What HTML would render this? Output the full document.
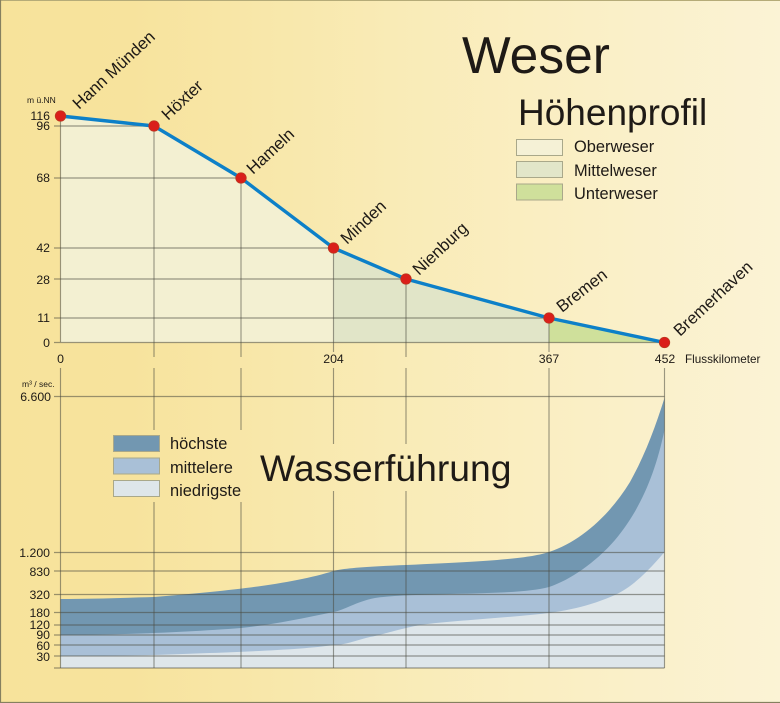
<!DOCTYPE html>
<html><head><meta charset="utf-8"><style>
html,body{margin:0;padding:0;background:#f8e8a8}
svg{display:block;filter:blur(.35px)}
text{font-family:"Liberation Sans",sans-serif;fill:#1e1a16}
.a{font-size:12.3px;fill:#2b2720}
.r{font-size:16.8px}
.l{font-size:16.4px}
.g line{stroke:#4a4a40;stroke-opacity:.55;stroke-width:1.15}
</style></head><body>
<svg width="780" height="703" viewBox="0 0 780 703" xmlns="http://www.w3.org/2000/svg">
<defs><linearGradient id="bg" x1="0" x2="1" y1="0" y2="0">
<stop offset="0" stop-color="#f7e39b"/><stop offset=".17" stop-color="#f7e39d"/><stop offset=".5" stop-color="#f9ebb6"/><stop offset="1" stop-color="#fbf3d5"/></linearGradient></defs>
<rect width="780" height="703" fill="url(#bg)"/>
<path d="M.5 703V.5H780" fill="none" stroke="#b5ab78" stroke-width="1"/>
<path d="M.5 0V702.5H780" fill="none" stroke="#85805f" stroke-width="1.2"/>

<polygon points="60.5,116 154,126 241,178 333.5,248 333.5,342.5 60.5,342.5" fill="#f3f0d2"/>
<polygon points="333.5,248 406,279 549,318 549,342.5 333.5,342.5" fill="#e1e5c8"/>
<polygon points="549,318 664.5,342.5 549,342.5" fill="#cfe09b"/>

<path d="M60.5 668H664.5V398C655 428 645 455 630 482C610 515 580 542 549 552C530 558 500 561 406 565C370 566.500 345 568 333.500 571C295 583 241 590 154 597C120 598 90 599 60.500 599Z" fill="#7297b1"/>
<path d="M60.5 668H664.5V430C655 475 640 510 615 540C595 563 570 580 549 587C530 592 500 593 450 594C420 595 395 595 375 598C355 602 345 610 333.500 612C300 619 270 625 241 628C190 632 120 635 60.500 635Z" fill="#a9c0d7"/>
<path d="M60.5 668H664.5V552C645 575 630 588 615 595C590 606 565 612 530 615C490 619 450 621 420 625C395 630 385 634 370 637C350 642 345 645 333.500 645C300 650 241 652 154 655C120 656 90 656 60.500 656Z" fill="#dee6ea"/>

<g class="g">
<line x1="60.5" y1="116" x2="60.5" y2="342"/>
<line x1="154" y1="126" x2="154" y2="357"/>
<line x1="241" y1="178" x2="241" y2="357"/>
<line x1="333.500" y1="248" x2="333.500" y2="352"/>
<line x1="406" y1="279" x2="406" y2="357"/>
<line x1="549" y1="318" x2="549" y2="352"/>
<line x1="54" y1="126" x2="154" y2="126"/>
<line x1="54" y1="178" x2="241" y2="178"/>
<line x1="54" y1="248" x2="333.500" y2="248"/>
<line x1="54" y1="279" x2="406" y2="279"/>
<line x1="54" y1="318" x2="549" y2="318"/>
<line x1="54" y1="342.5" x2="664" y2="342.5"/>
<line x1="60.5" y1="368" x2="60.5" y2="668"/>
<line x1="154" y1="368" x2="154" y2="430"/><line x1="154" y1="502" x2="154" y2="668"/>
<line x1="241" y1="368" x2="241" y2="430"/><line x1="241" y1="502" x2="241" y2="668"/>
<line x1="333.500" y1="368" x2="333.500" y2="444"/><line x1="333.500" y1="491" x2="333.500" y2="668"/>
<line x1="406" y1="368" x2="406" y2="444"/><line x1="406" y1="491" x2="406" y2="668"/>
<line x1="549" y1="368" x2="549" y2="668"/>
<line x1="664.5" y1="368" x2="664.5" y2="668"/>
<line x1="54" y1="396.500" x2="664.5" y2="396.500"/>
<line x1="54" y1="552.500" x2="664.5" y2="552.500"/>
<line x1="54" y1="571" x2="664.5" y2="571"/>
<line x1="54" y1="594.500" x2="664.5" y2="594.500"/>
<line x1="54" y1="612.500" x2="664.5" y2="612.500"/>
<line x1="54" y1="625" x2="664.5" y2="625"/>
<line x1="54" y1="635" x2="664.5" y2="635"/>
<line x1="54" y1="645" x2="664.5" y2="645"/>
<line x1="54" y1="656" x2="664.5" y2="656"/>
<line x1="54" y1="668" x2="664.5" y2="668"/>
</g>

<polyline points="60.5,116 154,126 241,178 333.5,248 406,279 549,318 664.5,342.5" fill="none" stroke="#0d80c8" stroke-width="3.4" stroke-linejoin="round"/>
<g fill="#da1f1a" stroke="#b83a20" stroke-width=".7">
<circle cx="60.500" cy="116" r="5.300"/><circle cx="154" cy="126" r="5.300"/><circle cx="241" cy="178" r="5.300"/><circle cx="333.500" cy="248" r="5.300"/><circle cx="406" cy="279" r="5.300"/><circle cx="549" cy="318" r="5.300"/><circle cx="664.500" cy="342.500" r="5.300"/>
</g>

<text x="462" y="73" font-size="51.500">Weser</text>
<text x="518" y="125" font-size="37">Höhenprofil</text>
<text x="260" y="481" font-size="37.300">Wasserführung</text>

<g stroke="#a9a88a" stroke-width="1">
<rect x="516.500" y="139.500" width="46" height="16" fill="#f5f1d6"/>
<rect x="516.500" y="161.500" width="46" height="16" fill="#e2e6c9"/>
<rect x="516.500" y="184" width="46" height="16" fill="#cfe09b"/>
<rect x="113.500" y="435.500" width="46" height="16" fill="#7297b1"/>
<rect x="113.500" y="458" width="46" height="16" fill="#a9c0d7"/>
<rect x="113.500" y="480.500" width="46" height="16" fill="#dee6ea"/>
</g>
<text class="l" x="574" y="152">Oberweser</text>
<text class="l" x="574" y="176">Mittelweser</text>
<text class="l" x="574" y="199">Unterweser</text>
<text class="l" x="170" y="449">höchste</text>
<text class="l" x="170" y="473">mittelere</text>
<text class="l" x="170" y="496">niedrigste</text>

<g class="a" text-anchor="end">
<text x="50" y="120">116</text><text x="50" y="130">96</text><text x="50" y="182">68</text><text x="50" y="252">42</text><text x="50" y="284">28</text><text x="50" y="322">11</text><text x="50" y="347">0</text>
<text x="51" y="401">6.600</text><text x="50" y="557">1.200</text><text x="50" y="576">830</text><text x="50" y="599">320</text><text x="50" y="617">180</text><text x="50" y="629">120</text><text x="50" y="639">90</text><text x="50" y="650">60</text><text x="50" y="661">30</text>
</g>
<g class="a" text-anchor="middle">
<text x="60.500" y="363">0</text><text x="333.500" y="363">204</text><text x="549" y="363">367</text><text x="665" y="363">452</text>
</g>
<text x="685" y="363" style="font-size:11.700px">Flusskilometer</text>
<text x="27" y="103" style="font-size:8.500px">m ü.NN</text>
<text x="22" y="387" style="font-size:8.500px">m³ / sec.</text>

<g class="r">
<text transform="translate(79,110) rotate(-43)">Hann Münden</text>
<text transform="translate(168,121) rotate(-43)">Höxter</text>
<text transform="translate(253,175) rotate(-43)">Hameln</text>
<text transform="translate(347,245) rotate(-43)">Minden</text>
<text transform="translate(419,276) rotate(-43)">Nienburg</text>
<text transform="translate(562,313) rotate(-38)">Bremen</text>
<text transform="translate(680,337) rotate(-43)">Bremerhaven</text>
</g>
</svg>
</body></html>
